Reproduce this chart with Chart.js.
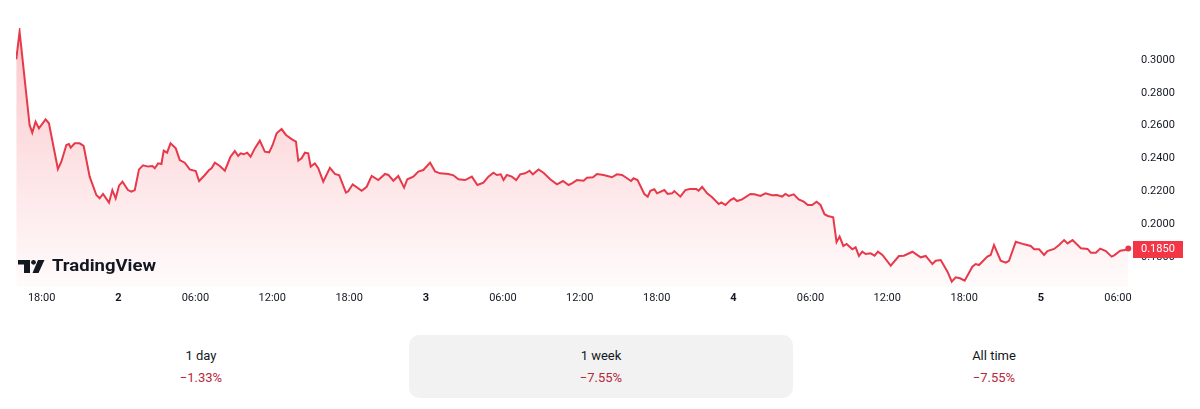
<!DOCTYPE html>
<html>
<head>
<meta charset="utf-8">
<script src="https://cdn.jsdelivr.net/npm/chart.js@4.4.1/dist/chart.umd.min.js"></script>
<style>
  html, body { margin: 0; padding: 0; background: #ffffff; width: 1200px; height: 409px; overflow: hidden; font-family: Roboto, "Liberation Sans", Arial, sans-serif; }
  #wrap { position: absolute; left: 0; top: 0; width: 1200px; height: 320px; }
  .tab { position: absolute; top: 335px; height: 63px; text-align: center; border-radius: 10px; }
  .tab.active { background: #f2f2f2; }
  .tab .name { position: absolute; left: 0; right: 0; top: 13px; font-size: 13px; color: #131722; }
  .tab .chg { position: absolute; left: 0; right: 0; top: 35px; font-size: 13px; color: #b8283b; }
</style>
</head>
<body>
<div id="wrap"><canvas id="c" width="1200" height="320"></canvas></div>
<div class="tab" style="left:16px;width:370px;"><div class="name">1 day</div><div class="chg">−1.33%</div></div>
<div class="tab active" style="left:409px;width:384px;"><div class="name">1 week</div><div class="chg">−7.55%</div></div>
<div class="tab" style="left:816px;width:356px;"><div class="name">All time</div><div class="chg">−7.55%</div></div>
<script>
// Hours since day 1, 00:00
const hours = [16.02,16.28,17.06,17.27,17.53,17.79,18.31,18.57,19.27,19.54,19.93,20.13,20.27,20.58,20.97,21.28,21.75,22.27,22.53,22.79,23.26,23.52,23.78,24.04,24.31,24.74,25.01,25.27,25.60,25.92,26.31,26.65,26.83,27.09,27.35,27.53,27.79,28.06,28.47,28.78,29.17,29.56,30.03,30.29,30.74,31.07,31.26,31.52,31.91,32.30,32.74,33.08,33.34,33.53,33.78,34.04,34.31,34.64,35.03,35.42,35.76,36.03,36.34,36.73,37.07,37.51,37.85,38.03,38.29,38.55,38.81,39.00,39.33,39.59,39.98,40.50,40.89,41.23,41.75,41.93,42.28,42.98,43.37,43.76,44.28,44.80,45.06,45.45,45.84,46.29,46.54,47.01,47.40,47.79,48.32,48.71,49.10,49.75,50.14,50.53,51.05,51.58,52.01,52.48,52.87,53.26,53.53,53.84,54.05,54.31,54.70,55.04,55.35,55.74,56.08,56.34,56.78,57.17,57.69,58.22,58.69,59.12,59.39,59.78,60.30,60.56,61.03,61.34,61.86,62.51,62.90,63.30,63.69,64.00,64.20,64.51,65.04,65.30,65.51,65.82,66.03,66.60,66.86,67.20,67.38,67.85,68.24,68.58,69.10,69.28,69.55,69.94,70.33,70.84,71.05,71.37,71.76,72.02,72.28,72.67,73.32,73.63,74.10,74.49,75.01,75.40,75.79,76.05,76.31,76.70,77.09,77.48,77.80,78.14,78.48,78.79,79.10,79.36,79.78,80.04,80.28,80.57,80.83,81.27,81.53,81.79,82.05,82.31,82.70,83.01,83.27,83.62,84.27,84.91,85.30,85.96,86.61,87.00,87.52,87.78,88.17,88.70,89.03,89.34,89.68,90.04,90.64,90.90,91.16,91.81,92.07,92.33,92.85,93.25,93.50,94.03,94.68,95.20,95.46,95.85,96.24,96.50,97.02,97.41,97.80,98.07,98.46,98.85,99.11,99.63,99.89,100.28,100.62,101.06,101.51,101.71,102.18,102.55,102.81];
const prices = [0.3004,0.3173,0.2604,0.2557,0.2624,0.2583,0.2638,0.2614,0.2335,0.2380,0.2482,0.2488,0.2465,0.2492,0.2492,0.2476,0.2289,0.2177,0.2157,0.2183,0.2130,0.2207,0.2157,0.2234,0.2258,0.2207,0.2197,0.2207,0.2333,0.2358,0.2350,0.2354,0.2340,0.2370,0.2366,0.2447,0.2435,0.2492,0.2461,0.2390,0.2374,0.2333,0.2323,0.2262,0.2299,0.2329,0.2340,0.2374,0.2354,0.2325,0.2410,0.2445,0.2415,0.2431,0.2425,0.2435,0.2410,0.2461,0.2508,0.2441,0.2437,0.2482,0.2553,0.2579,0.2543,0.2518,0.2502,0.2386,0.2401,0.2435,0.2431,0.2350,0.2370,0.2340,0.2258,0.2343,0.2305,0.2297,0.2191,0.2199,0.2242,0.2203,0.2227,0.2293,0.2268,0.2305,0.2299,0.2264,0.2293,0.2222,0.2273,0.2289,0.2320,0.2329,0.2374,0.2320,0.2309,0.2305,0.2297,0.2273,0.2268,0.2289,0.2238,0.2252,0.2289,0.2313,0.2299,0.2303,0.2268,0.2299,0.2289,0.2268,0.2303,0.2309,0.2325,0.2303,0.2333,0.2313,0.2273,0.2242,0.2262,0.2238,0.2248,0.2268,0.2264,0.2282,0.2285,0.2305,0.2299,0.2285,0.2303,0.2299,0.2279,0.2262,0.2279,0.2268,0.2183,0.2167,0.2203,0.2212,0.2187,0.2207,0.2183,0.2187,0.2201,0.2167,0.2207,0.2213,0.2213,0.2203,0.2227,0.2187,0.2163,0.2122,0.2132,0.2116,0.2146,0.2157,0.2140,0.2150,0.2183,0.2181,0.2171,0.2187,0.2175,0.2177,0.2167,0.2183,0.2171,0.2181,0.2150,0.2136,0.2116,0.2116,0.2136,0.2116,0.2060,0.2049,0.2041,0.1889,0.1923,0.1866,0.1878,0.1846,0.1858,0.1805,0.1831,0.1817,0.1821,0.1807,0.1831,0.1811,0.1746,0.1805,0.1807,0.1831,0.1797,0.1805,0.1756,0.1776,0.1780,0.1709,0.1648,0.1675,0.1669,0.1654,0.1740,0.1756,0.1750,0.1801,0.1811,0.1872,0.1776,0.1764,0.1776,0.1892,0.1876,0.1866,0.1846,0.1846,0.1811,0.1835,0.1848,0.1872,0.1902,0.1882,0.1902,0.1872,0.1852,0.1848,0.1825,0.1825,0.1850,0.1835,0.1801,0.1809,0.1837,0.1841,0.1850];
const xTicks = [18,24,30,36,42,48,54,60,66,72,78,84,90,96,102];
const yTicks = [0.18,0.20,0.22,0.24,0.26,0.28,0.30];
const lastPriceLabel = "0.1850";

const LINE = '#e8394b';
const FONT = "Roboto, 'Liberation Sans', Arial, sans-serif";

const overlay = {
  id: 'overlay',
  afterDraw(chart) {
    const ctx = chart.ctx, a = chart.chartArea, y = chart.scales.y;
    // last price label
    const py = Math.round(y.getPixelForValue(prices[prices.length - 1]));
    ctx.save();
    ctx.fillStyle = '#f23645';
    ctx.fillRect(a.right + 1, py - 8, 50, 17);
    ctx.fillStyle = '#ffffff';
    ctx.font = "11px " + FONT;
    ctx.textBaseline = 'middle';
    ctx.textAlign = 'left';
    ctx.fillText(lastPriceLabel, a.right + 9, py + 0.5);
    // TradingView logo
    ctx.fillStyle = '#131722';
    ctx.fillRect(18, 260, 12, 4.5);
    ctx.fillRect(24, 260, 6, 13);
    ctx.beginPath(); ctx.arc(33.5, 262.3, 2.4, 0, Math.PI * 2); ctx.fill();
    ctx.beginPath();
    ctx.moveTo(38, 260); ctx.lineTo(44.5, 260); ctx.lineTo(38.5, 273); ctx.lineTo(32.5, 273);
    ctx.closePath(); ctx.fill();
    ctx.font = "bold 17px " + FONT;
    ctx.textBaseline = 'middle';
    const w = ctx.measureText('TradingView').width;
    ctx.translate(52, 267);
    ctx.scale(104 / w, 1);
    ctx.fillText('TradingView', 0, 0);
    ctx.restore();
  }
};

const ctx = document.getElementById('c').getContext('2d');
new Chart(ctx, {
  type: 'line',
  data: {
    datasets: [{
      data: hours.map((h, i) => ({ x: h, y: prices[i] })),
      borderColor: LINE,
      borderWidth: 2,
      tension: 0,
      pointRadius: ctx2 => ctx2.dataIndex === prices.length - 1 ? 3 : 0,
      pointBackgroundColor: LINE,
      pointBorderWidth: 0,
      fill: 'start',
      backgroundColor: (c) => {
        const a = c.chart.chartArea;
        if (!a) return 'rgba(242,54,69,0.1)';
        const g = c.chart.ctx.createLinearGradient(0, a.top, 0, a.bottom);
        g.addColorStop(0, 'rgba(242,54,69,0.28)');
        g.addColorStop(1, 'rgba(242,54,69,0.02)');
        return g;
      }
    }]
  },
  options: {
    responsive: false,
    animation: false,
    layout: { padding: { left: 16, top: 28, right: 0, bottom: 8 } },
    plugins: { legend: { display: false }, tooltip: { enabled: false } },
    scales: {
      x: {
        type: 'linear',
        min: 16,
        max: 103.1,
        grid: { display: false, drawTicks: false },
        border: { display: false },
        afterBuildTicks: s => { s.ticks = xTicks.map(v => ({ value: v })); },
        afterFit: s => { s.height = 25; },
        ticks: {
          autoSkip: false,
          maxRotation: 0,
          padding: 5,
          color: '#131722',
          font: c => ({ family: FONT, size: 11, weight: (c.tick && c.tick.value % 24 === 0) ? 'bold' : 'normal' }),
          callback: v => {
            const hh = v % 24;
            if (hh === 0) return String(v / 24 + 1);
            return String(hh).padStart(2, '0') + ':00';
          }
        }
      },
      y: {
        position: 'right',
        min: 0.16159,
        max: 0.31951,
        grid: { display: false, drawTicks: false },
        border: { display: false },
        afterBuildTicks: s => { s.ticks = yTicks.map(v => ({ value: v })); },
        afterFit: s => { s.width = 68; },
        ticks: {
          padding: 9,
          color: '#131722',
          font: { family: FONT, size: 11 },
          callback: v => Number(v).toFixed(4)
        }
      }
    }
  },
  plugins: [overlay]
});
</script>
</body>
</html>
